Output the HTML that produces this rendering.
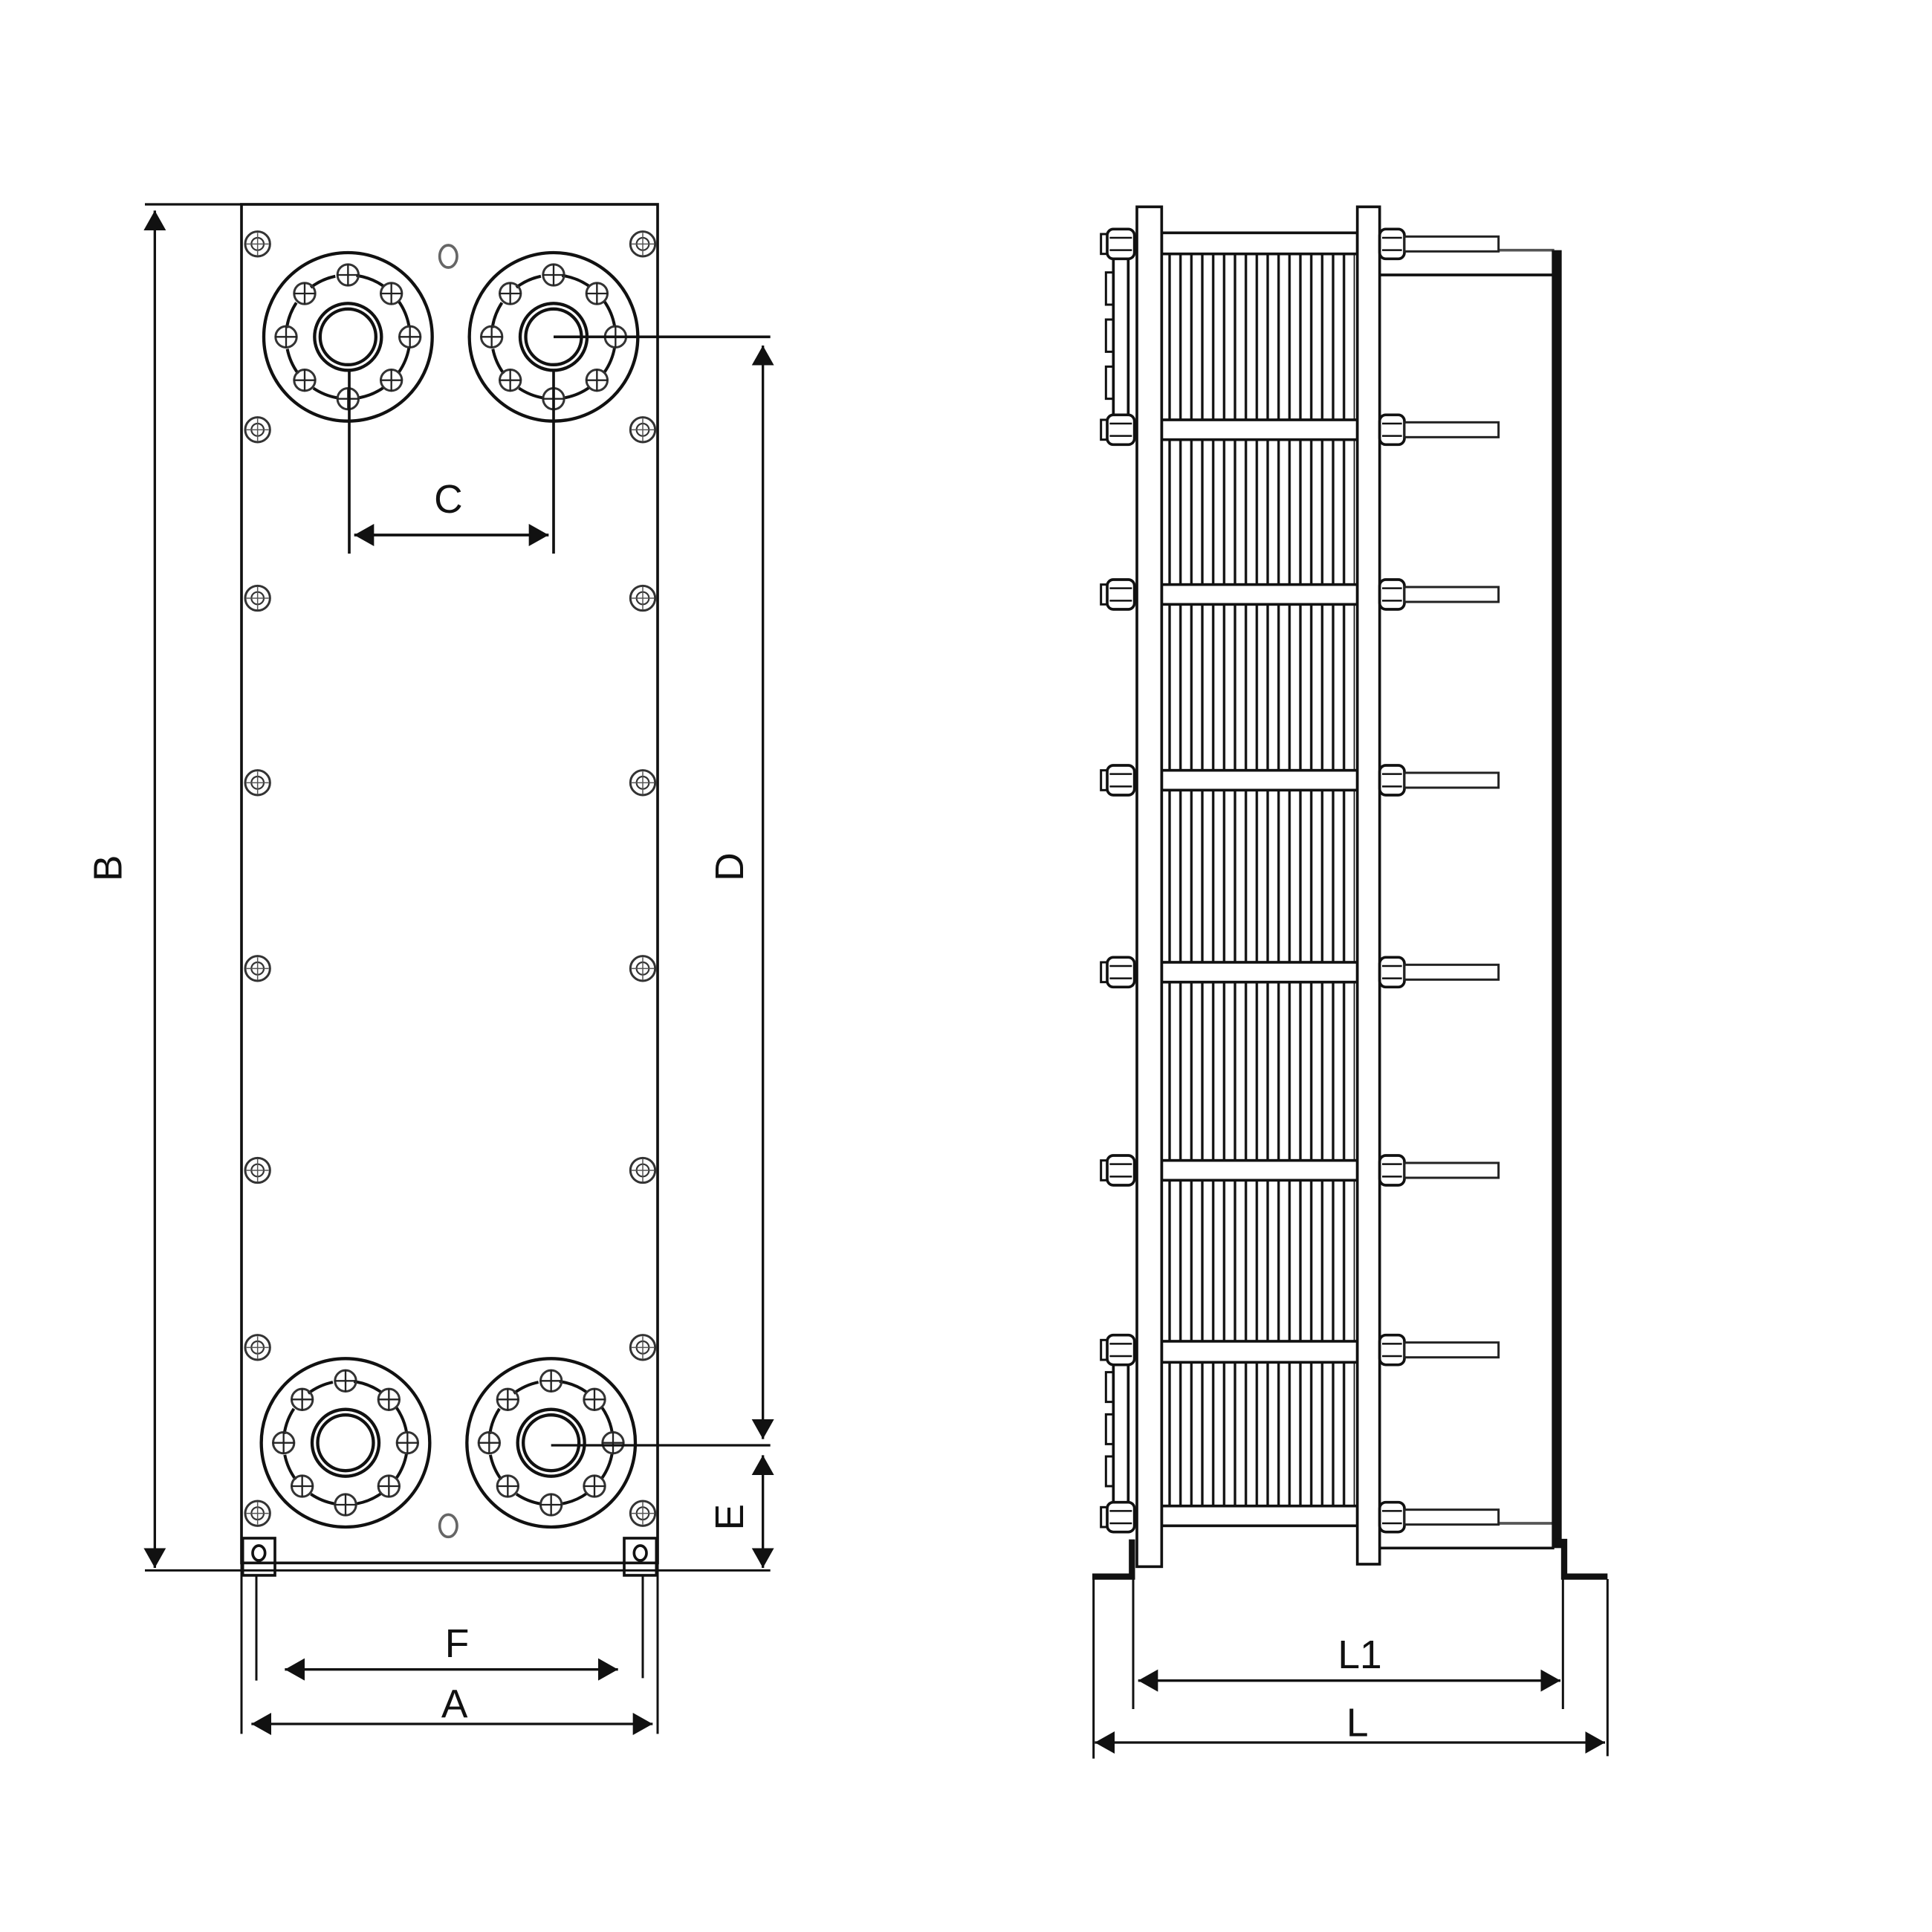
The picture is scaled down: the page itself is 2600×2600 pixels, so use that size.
<!DOCTYPE html>
<html><head><meta charset="utf-8"><style>html,body{margin:0;padding:0;background:#fff}svg{display:block}</style></head>
<body>
<svg width="2600" height="2600" viewBox="0 0 1560 1560" xmlns="http://www.w3.org/2000/svg">
<defs>
<marker id="ar" viewBox="0 0 16 18" refX="16" refY="9" markerWidth="16" markerHeight="18" markerUnits="userSpaceOnUse" orient="auto-start-reverse"><path d="M0,0L16,9L0,18z" fill="#111"/></marker>
<pattern id="rib" x="940" y="0" width="8.8" height="10" patternUnits="userSpaceOnUse"><rect x="3.4" y="0" width="2" height="10" fill="#111"/></pattern>
<g id="b"><circle r="8.5" fill="none" stroke="#333" stroke-width="1.8"/><path d="M-9,0H9M0,-9V9" stroke="#222" stroke-width="1.4"/></g>
<g id="cb"><circle r="10" fill="none" stroke="#333" stroke-width="1.8"/><circle r="5" fill="none" stroke="#333" stroke-width="1.3"/><path d="M-9,0H9M0,-9V9" stroke="#555" stroke-width="0.9"/></g>
<g id="fl" fill="none" stroke="#111">
<circle r="68" stroke-width="2.6"/>
<circle r="27" stroke-width="2.6"/><circle r="22.5" stroke-width="2.6"/>
<circle r="50" stroke-width="2.4" stroke-dasharray="22 17" transform="rotate(-80)"/>
<use href="#b" x="0" y="-50"/><use href="#b" x="35" y="-35"/><use href="#b" x="50" y="0"/><use href="#b" x="35" y="35"/>
<use href="#b" x="0" y="50"/><use href="#b" x="-35" y="35"/><use href="#b" x="-50" y="0"/><use href="#b" x="-35" y="-35"/>
</g>
<g id="nr"><rect x="1114" y="-12" width="20" height="24" rx="5" fill="#fff" stroke="#111" stroke-width="2.2"/><path d="M1116,-5H1132M1116,5H1132" stroke="#111" stroke-width="1.5"/><rect x="1134" y="-6" width="76" height="12" fill="#fff" stroke="#222" stroke-width="1.8"/></g>
<g id="nl"><rect x="889" y="-8" width="8" height="16" fill="#fff" stroke="#111" stroke-width="1.8"/><rect x="894" y="-12" width="22" height="24" rx="5" fill="#fff" stroke="#111" stroke-width="2.2"/><path d="M896,-5H914M896,5H914" stroke="#111" stroke-width="1.5"/></g>
</defs>

<!-- LEFT VIEW -->
<g fill="none" stroke="#111">
<rect x="195" y="165" width="336" height="1097" stroke-width="2.2"/>
<line x1="117" y1="165" x2="195" y2="165" stroke-width="2"/>
<line x1="117" y1="1268" x2="622" y2="1268" stroke-width="1.8"/>
<line x1="125" y1="170" x2="125" y2="1266" stroke-width="2" marker-start="url(#ar)" marker-end="url(#ar)"/>
</g>
<use href="#fl" x="281" y="272"/><use href="#fl" x="447" y="272"/>
<use href="#fl" x="279" y="1165"/><use href="#fl" x="445" y="1165"/>
<g>
<use href="#cb" x="208" y="197"/><use href="#cb" x="519" y="197"/>
<use href="#cb" x="208" y="347"/><use href="#cb" x="519" y="347"/>
<use href="#cb" x="208" y="483"/><use href="#cb" x="519" y="483"/>
<use href="#cb" x="208" y="632"/><use href="#cb" x="519" y="632"/>
<use href="#cb" x="208" y="782"/><use href="#cb" x="519" y="782"/>
<use href="#cb" x="208" y="945"/><use href="#cb" x="519" y="945"/>
<use href="#cb" x="208" y="1088"/><use href="#cb" x="519" y="1088"/>
<use href="#cb" x="208" y="1222"/><use href="#cb" x="519" y="1222"/>
</g>
<g fill="none" stroke="#666" stroke-width="2.2"><ellipse cx="362" cy="207" rx="7" ry="9"/><ellipse cx="362" cy="1232" rx="7" ry="9"/></g>
<g fill="none" stroke="#111" stroke-width="2.2">
<rect x="196" y="1242" width="26" height="30"/><ellipse cx="209" cy="1254" rx="5" ry="6"/>
<rect x="504" y="1242" width="26" height="30"/><ellipse cx="517" cy="1254" rx="5" ry="6"/>
</g>
<g stroke="#111" fill="none">
<line x1="207" y1="1272" x2="207" y2="1357" stroke-width="1.8"/>
<line x1="519" y1="1272" x2="519" y2="1355" stroke-width="1.8"/>
<line x1="195" y1="1262" x2="195" y2="1400" stroke-width="1.8"/>
<line x1="531" y1="1262" x2="531" y2="1400" stroke-width="1.8"/>
<line x1="282" y1="300" x2="282" y2="447" stroke-width="2.2"/>
<line x1="447" y1="300" x2="447" y2="447" stroke-width="2.2"/>
<line x1="286" y1="432" x2="443" y2="432" stroke-width="2.2" marker-start="url(#ar)" marker-end="url(#ar)"/>
<line x1="447" y1="272" x2="622" y2="272" stroke-width="2.2"/>
<line x1="445" y1="1167" x2="622" y2="1167" stroke-width="2"/>
<line x1="616" y1="279" x2="616" y2="1162" stroke-width="2" marker-start="url(#ar)" marker-end="url(#ar)"/>
<line x1="616" y1="1175" x2="616" y2="1266" stroke-width="2" marker-start="url(#ar)" marker-end="url(#ar)"/>
<line x1="230" y1="1348" x2="499" y2="1348" stroke-width="2" marker-start="url(#ar)" marker-end="url(#ar)"/>
<line x1="203" y1="1392" x2="527" y2="1392" stroke-width="2" marker-start="url(#ar)" marker-end="url(#ar)"/>
</g>
<g font-family="Liberation Sans, sans-serif" font-size="32" fill="#111" text-anchor="middle">
<text x="362" y="414">C</text>
<text x="369" y="1338">F</text>
<text x="367" y="1387">A</text>
<text transform="translate(98,701) rotate(-90)">B</text>
<text transform="translate(600,700) rotate(-90)">D</text>
<text transform="translate(600,1225) rotate(-90)">E</text>
</g>

<!-- RIGHT VIEW -->
<g fill="#fff" stroke="#111" stroke-width="2.2">
<rect x="938" y="205" width="156" height="134" fill="url(#rib)" stroke="none"/>
<rect x="938" y="355" width="156" height="117" fill="url(#rib)" stroke="none"/>
<rect x="938" y="488" width="156" height="134" fill="url(#rib)" stroke="none"/>
<rect x="938" y="638" width="156" height="139" fill="url(#rib)" stroke="none"/>
<rect x="938" y="793" width="156" height="144" fill="url(#rib)" stroke="none"/>
<rect x="938" y="953" width="156" height="130" fill="url(#rib)" stroke="none"/>
<rect x="938" y="1100" width="156" height="116" fill="url(#rib)" stroke="none"/>
<rect x="938" y="188" width="158" height="17"/>
<rect x="938" y="339" width="158" height="16"/>
<rect x="938" y="472" width="158" height="16"/>
<rect x="938" y="622" width="158" height="16"/>
<rect x="938" y="777" width="158" height="16"/>
<rect x="938" y="937" width="158" height="16"/>
<rect x="938" y="1083" width="158" height="17"/>
<rect x="938" y="1216" width="158" height="16"/>
<rect x="918" y="167" width="20" height="1098"/>
<rect x="1096" y="167" width="18" height="1096"/>
</g>
<g fill="none" stroke="#111" stroke-width="2.2">
<line x1="1210" y1="202" x2="1255" y2="202" stroke="#555"/>
<line x1="1114" y1="222" x2="1255" y2="222"/>
<line x1="1210" y1="1230" x2="1255" y2="1230" stroke="#555"/>
<line x1="1114" y1="1250" x2="1255" y2="1250"/>
<rect x="899" y="208" width="12" height="132"/>
<rect x="899" y="1097" width="12" height="120"/>
<path d="M893,220h6v26h-6zM893,258h6v26h-6zM893,296h6v26h-6z" stroke-width="1.8"/>
<path d="M893,1108h6v24h-6zM893,1142h6v24h-6zM893,1176h6v24h-6z" stroke-width="1.8"/>
</g>
<rect x="1253" y="202" width="8" height="1048" fill="#111"/>
<use href="#nr" y="197"/><use href="#nr" y="347"/><use href="#nr" y="480"/><use href="#nr" y="630"/>
<use href="#nr" y="785"/><use href="#nr" y="945"/><use href="#nr" y="1090"/><use href="#nr" y="1225"/>
<use href="#nl" y="197"/><use href="#nl" y="347"/><use href="#nl" y="480"/><use href="#nl" y="630"/>
<use href="#nl" y="785"/><use href="#nl" y="945"/><use href="#nl" y="1090"/><use href="#nl" y="1225"/>
<g fill="none" stroke="#111">
<path d="M914,1243V1273H882" stroke-width="5"/>
<path d="M1256,1245H1263V1273H1298" stroke-width="5"/>
<line x1="883" y1="1275" x2="883" y2="1420" stroke-width="1.8"/>
<line x1="1298" y1="1275" x2="1298" y2="1418" stroke-width="1.8"/>
<line x1="915" y1="1275" x2="915" y2="1380" stroke-width="1.8"/>
<line x1="1262" y1="1275" x2="1262" y2="1380" stroke-width="1.8"/>
<line x1="919" y1="1357" x2="1260" y2="1357" stroke-width="2" marker-start="url(#ar)" marker-end="url(#ar)"/>
<line x1="884" y1="1407" x2="1296" y2="1407" stroke-width="2" marker-start="url(#ar)" marker-end="url(#ar)"/>
</g>
<g font-family="Liberation Sans, sans-serif" font-size="32" fill="#111" text-anchor="middle">
<text x="1098" y="1347">L1</text>
<text x="1096" y="1402">L</text>
</g>
</svg>
</body></html>
